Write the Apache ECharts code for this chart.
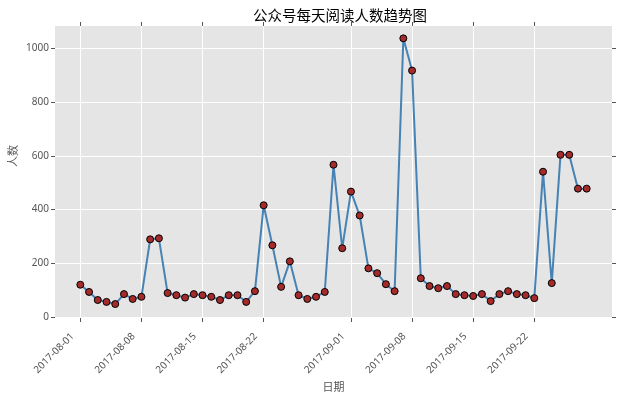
<!DOCTYPE html>
<html>
<head>
<meta charset="utf-8">
<script src="https://cdn.jsdelivr.net/npm/echarts@6/dist/echarts.min.js"></script>
<style>
  html, body { margin: 0; padding: 0; background: #fff; }
  #chart { width: 623px; height: 398px; }
</style>
</head>
<body>
<div id="chart"></div>
<script>
// 每天阅读人数 (2017-08-01 起，连续 59 天)
const startDate = '2017-08-01';
const readCounts = [
  120, 93, 63, 56, 48, 85, 67, 75, 289, 293,
  89, 81, 72, 85, 81, 75, 63, 81, 81, 56,
  96, 416, 267, 112, 207, 81, 67, 75, 93, 567,
  256, 467, 378, 181, 163, 122, 96, 1038, 918, 144,
  115, 107, 115, 85, 81, 78, 85, 59, 85, 96,
  85, 81, 70, 541, 126, 604, 604, 478, 478
];
const xTickLabels = ['2017-08-01', '2017-08-08', '2017-08-15', '2017-08-22',
                     '2017-09-01', '2017-09-08', '2017-09-15', '2017-09-22'];
const yTickValues = [0, 200, 400, 600, 800, 1000];

// x 轴用“距起始日的天数”
const DAY = 24 * 3600 * 1000;
const toTime = s => Date.UTC(+s.slice(0, 4), +s.slice(5, 7) - 1, +s.slice(8, 10));
const t0 = toTime(startDate);
const dayOf = s => Math.round((toTime(s) - t0) / DAY);
const seriesData = readCounts.map((v, i) => [i, v]);
const xTicks = xTickLabels.map(dayOf);
const xMin = -2.9;
const xMax = readCounts.length - 1 + 2.9;

const pad = n => (n < 10 ? '0' : '') + n;
const fmtDay = i => {
  const d = new Date(t0 + i * DAY);
  return d.getUTCFullYear() + '-' + pad(d.getUTCMonth() + 1) + '-' + pad(d.getUTCDate());
};

const font = 'Noto Sans, Noto Sans CJK SC';
const tickStyle = { show: true, length: 4, inside: false, lineStyle: { color: '#555', width: 1 } };
const noLine = { show: false, onZero: false };

const myChart = echarts.init(document.getElementById('chart'));
const option = {
  backgroundColor: '#fff',
  animation: false,
  textStyle: { fontFamily: font },
  title: {
    text: '公众号每天阅读人数趋势图',
    left: 335,
    textAlign: 'center',
    top: 5,
    textStyle: { fontSize: 14.5, fontWeight: 'normal', color: '#000', fontFamily: font }
  },
  grid: {
    left: 55, right: 11, top: 26, bottom: 80,
    outerBoundsMode: 'none',
    containLabel: false,
    show: true, backgroundColor: '#e5e5e5', borderWidth: 0
  },
  xAxis: [{
    type: 'value',
    min: xMin,
    max: xMax,
    name: '日期',
    nameLocation: 'middle',
    nameGap: 61,
    nameTextStyle: { fontSize: 11, color: '#555', fontFamily: font },
    axisLine: noLine,
    axisTick: Object.assign({ customValues: xTicks }, tickStyle),
    axisLabel: {
      customValues: xTicks,
      formatter: v => fmtDay(v),
      rotate: 45,
      fontSize: 10,
      color: '#555',
      margin: 9,
      padding: [0, 11, 0, 0],
      fontFamily: font
    },
    splitLine: { show: true, lineStyle: { color: '#fff', width: 1 } }
  }, {
    type: 'value',
    position: 'top',
    min: xMin,
    max: xMax,
    axisLine: noLine,
    axisTick: Object.assign({ customValues: xTicks }, tickStyle),
    axisLabel: { show: false },
    splitLine: { show: false }
  }],
  yAxis: [{
    type: 'value',
    min: -4,
    max: 1084,
    name: '人数',
    nameLocation: 'middle',
    nameGap: 36,
    nameMoveOverlap: false,
    nameTextStyle: { fontSize: 11, color: '#555', padding: [0, 0, 0, 32], fontFamily: font },
    axisLine: noLine,
    axisTick: Object.assign({ customValues: yTickValues }, tickStyle),
    axisLabel: {
      customValues: yTickValues, formatter: v => String(v),
      fontSize: 10, color: '#555', margin: 6, fontFamily: font
    },
    splitLine: { show: true, lineStyle: { color: '#fff', width: 1 } }
  }, {
    type: 'value',
    position: 'right',
    min: -4,
    max: 1084,
    axisLine: noLine,
    axisTick: Object.assign({ customValues: yTickValues }, tickStyle),
    axisLabel: { show: false },
    splitLine: { show: false }
  }],
  series: [{
    name: '阅读人数',
    type: 'line',
    data: seriesData,
    symbol: 'circle',
    symbolSize: 7,
    showAllSymbol: true,
    lineStyle: { color: '#4682b4', width: 2 },
    itemStyle: { color: '#a52a2a', borderColor: '#000', borderWidth: 1 }
  }]
};
myChart.setOption(option);
</script>
</body>
</html>
